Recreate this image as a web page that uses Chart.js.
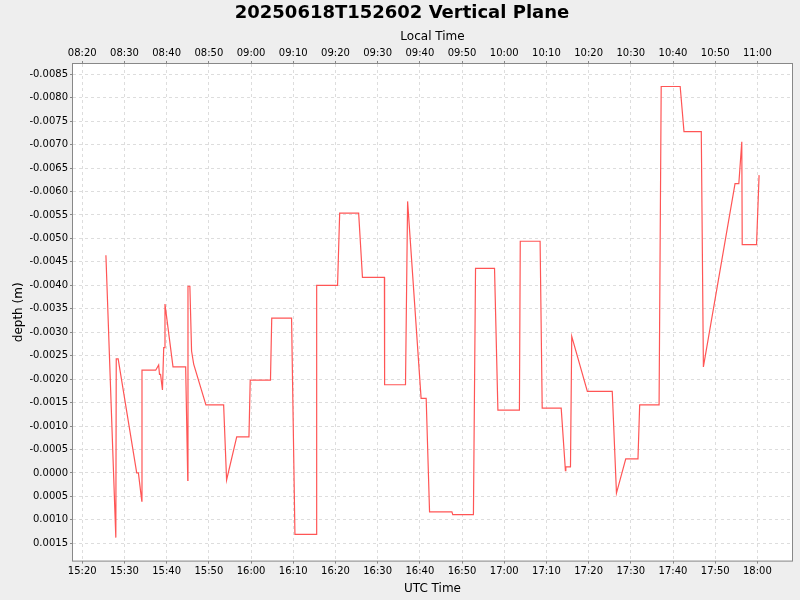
<!DOCTYPE html>
<html>
<head>
<meta charset="utf-8">
<script src="https://cdn.jsdelivr.net/npm/chart.js@4"></script>
<style>
  html, body { margin: 0; padding: 0; background: #eeeeee; }
  #wrap { width: 800px; height: 600px; }
</style>
</head>
<body>
<div id="wrap"><canvas id="depthChart"></canvas></div>
<script>
// UTC sample times and depth readings (m)
const utcTimes = [
  "15:25:36", "15:27:57", "15:28:03", "15:28:30", "15:32:54", "15:33:18", "15:34:06", "15:34:09",
  "15:37:24", "15:38:06", "15:38:18", "15:38:33", "15:39:00", "15:39:18", "15:39:33", "15:39:36",
  "15:41:30", "15:44:30", "15:45:00", "15:45:03", "15:45:30", "15:45:54", "15:46:24", "15:49:18",
  "15:53:30", "15:54:12", "15:56:36", "15:59:30", "15:59:48", "16:04:36", "16:04:54", "16:09:36",
  "16:10:24", "16:15:30", "16:15:33", "16:20:30", "16:21:00", "16:25:30", "16:26:24", "16:31:36",
  "16:31:39", "16:36:36", "16:37:06", "16:40:18", "16:41:30", "16:42:18", "16:47:36", "16:47:48",
  "16:52:42", "16:53:12", "16:57:42", "16:58:30", "17:03:36", "17:03:48", "17:08:30", "17:09:00",
  "17:13:30", "17:14:30", "17:14:36", "17:15:42", "17:16:00", "17:19:42", "17:25:36", "17:26:36",
  "17:28:48", "17:31:42", "17:32:06", "17:36:42", "17:37:12", "17:41:42", "17:42:36", "17:46:42",
  "17:47:12", "17:54:42", "17:55:36", "17:56:18", "17:56:24", "17:59:48", "18:00:24"
];
const depths = [
  -0.00464, 0.00138, -0.00243, -0.00243, 0.00000, 0.00000, 0.00060, -0.00219,
  -0.00219, -0.00230, -0.00210, -0.00210, -0.00177, -0.00267, -0.00267, -0.00360,
  -0.00226, -0.00226, 0.00016, -0.00398, -0.00398, -0.00260, -0.00232, -0.00145,
  -0.00145, 0.00015, -0.00077, -0.00077, -0.00198, -0.00198, -0.00330, -0.00330,
  0.00131, 0.00131, -0.00400, -0.00400, -0.00554, -0.00554, -0.00417, -0.00417,
  -0.00188, -0.00188, -0.00579, -0.00159, -0.00159, 0.00083, 0.00083, 0.00089,
  0.00089, -0.00436, -0.00436, -0.00134, -0.00134, -0.00494, -0.00494, -0.00138,
  -0.00138, -0.00005, -0.00013, -0.00013, -0.00291, -0.00174, -0.00174, 0.00043,
  -0.00030, -0.00030, -0.00145, -0.00145, -0.00824, -0.00824, -0.00728, -0.00728,
  -0.00226, -0.00617, -0.00617, -0.00706, -0.00487, -0.00487, -0.00635
];

// axis ticks
const utcTickLabels = ["15:20", "15:30", "15:40", "15:50", "16:00", "16:10", "16:20", "16:30", "16:40",
  "16:50", "17:00", "17:10", "17:20", "17:30", "17:40", "17:50", "18:00"];
const depthTicks = [-0.0085, -0.0080, -0.0075, -0.0070, -0.0065, -0.0060, -0.0055, -0.0050, -0.0045,
  -0.0040, -0.0035, -0.0030, -0.0025, -0.0020, -0.0015, -0.0010, -0.0005, 0.0000, 0.0005, 0.0010, 0.0015];
const localOffsetMin = -7 * 60;

function toMinutes(s) {
  const p = s.split(":").map(Number);
  return p[0] * 60 + p[1] + (p[2] || 0) / 60;
}
function fmtMinutes(m) {
  m = ((Math.round(m) % 1440) + 1440) % 1440;
  const h = Math.floor(m / 60), mm = m % 60;
  return String(h).padStart(2, "0") + ":" + String(mm).padStart(2, "0");
}

const points = utcTimes.map((t, i) => ({ x: toMinutes(t), y: depths[i] }));
const xTickValues = utcTickLabels.map(toMinutes);
const xMin = toMinutes("15:17:48"), xMax = toMinutes("18:08:12");

// white plot area + grey frame
const plotFrame = {
  id: "plotFrame",
  beforeDraw(chart) {
    const a = chart.chartArea, ctx = chart.ctx;
    ctx.save();
    ctx.fillStyle = "#ffffff";
    ctx.fillRect(a.left, a.top, a.right - a.left, a.bottom - a.top);
    ctx.restore();
  },
  afterDraw(chart) {
    const a = chart.chartArea, ctx = chart.ctx;
    ctx.save();
    ctx.strokeStyle = "#888888";
    ctx.lineWidth = 1;
    ctx.strokeRect(a.left - 0.5, a.top - 0.5, a.right - a.left + 1, a.bottom - a.top + 1);
    ctx.restore();
  }
};

const gridStyle = {
  color: "#dddddd",
  lineWidth: 1,
  tickColor: "#888888",
  tickLength: 3,
  drawTicks: true
};
const tickFont = { family: "DejaVu Sans", size: 10 };
const titleFont = { family: "DejaVu Sans", size: 12 };

new Chart(document.getElementById("depthChart"), {
  type: "line",
  data: {
    datasets: [{
      label: "depth",
      data: points,
      borderColor: "#ff5555",
      borderWidth: 1.2,
      pointRadius: 0,
      tension: 0,
      fill: false
    }]
  },
  plugins: [plotFrame],
  options: {
    responsive: true,
    maintainAspectRatio: false,
    animation: false,
    layout: { padding: { left: 12, right: 8, top: 2, bottom: 4 } },
    plugins: {
      legend: { display: false },
      tooltip: { enabled: false },
      title: {
        display: true,
        text: "20250618T152602 Vertical Plane",
        color: "#000000",
        font: { family: "DejaVu Sans", size: 18, weight: "bold" },
        padding: { top: 1, bottom: 5 }
      }
    },
    scales: {
      x: {
        type: "linear",
        position: "bottom",
        min: xMin,
        max: xMax,
        afterBuildTicks: axis => { axis.ticks = xTickValues.map(v => ({ value: v })); },
        ticks: { color: "#000000", font: tickFont, padding: 2, maxRotation: 0, autoSkip: false,
          callback: v => fmtMinutes(v) },
        grid: { ...gridStyle, borderDash: [3, 3] },
        border: { display: false, dash: [3, 3] },
        title: { display: true, text: "UTC Time", color: "#000000", font: titleFont, padding: { top: 2, bottom: 0 } }
      },
      xLocal: {
        type: "linear",
        position: "top",
        min: xMin,
        max: xMax,
        afterBuildTicks: axis => { axis.ticks = xTickValues.map(v => ({ value: v })); },
        ticks: { color: "#000000", font: tickFont, padding: 2, maxRotation: 0, autoSkip: false,
          callback: v => fmtMinutes(v + localOffsetMin) },
        grid: { ...gridStyle, drawOnChartArea: false },
        border: { display: false },
        title: { display: true, text: "Local Time", color: "#000000", font: titleFont, padding: { top: 0, bottom: 1 } }
      },
      y: {
        type: "linear",
        reverse: true,
        min: -0.00872,
        max: 0.00187,
        afterBuildTicks: axis => { axis.ticks = depthTicks.map(v => ({ value: v })); },
        ticks: { color: "#000000", font: tickFont, padding: 2,
          callback: v => (Math.abs(v) < 1e-9 ? 0 : v).toFixed(4) },
        grid: { ...gridStyle },
        border: { display: false, dash: [3, 3] },
        title: { display: true, text: "depth (m)", color: "#000000", font: titleFont, padding: { top: 0, bottom: 1 } }
      }
    }
  }
});
</script>
</body>
</html>
